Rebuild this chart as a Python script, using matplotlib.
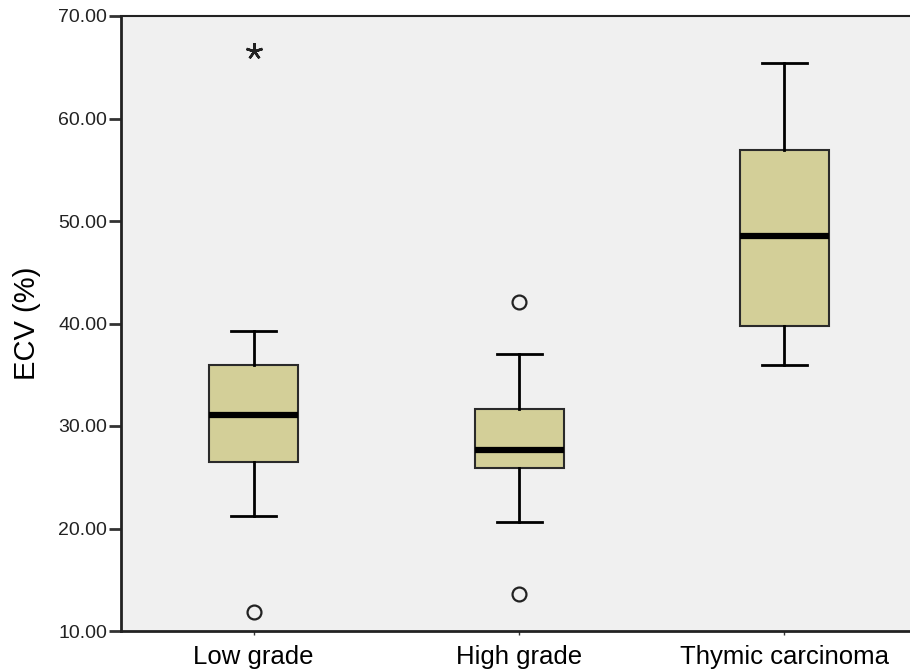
import matplotlib
matplotlib.use("Agg")
import matplotlib.pyplot as plt

plt.rcParams['font.family'] = ['Liberation Sans', 'DejaVu Sans']

categories = ["Low grade", "High grade", "Thymic carcinoma"]
whisker_low = [21.2, 20.6, 35.95]
q1 = [26.5, 25.9, 39.8]
median = [31.05, 27.65, 48.55]
q3 = [35.95, 31.65, 56.95]
whisker_high = [39.3, 37.0, 65.4]
outliers_circle = [[11.9], [42.1, 13.6], []]
outliers_extreme = [[66.6], [], []]
yticks = [10, 20, 30, 40, 50, 60, 70]

fig = plt.figure(figsize=(9.10, 6.71), dpi=100)
ax = fig.add_axes([121/910, 1-631/671, 1-121/910, (631-16)/671])
ax.set_facecolor('#F0F0F0')

stats = []
for i, c in enumerate(categories):
    stats.append(dict(label=c, whislo=whisker_low[i], q1=q1[i], med=median[i],
                      q3=q3[i], whishi=whisker_high[i], fliers=[]))

pos = list(range(len(categories)))
ax.bxp(stats, positions=pos, widths=0.335, patch_artist=True, showfliers=False,
       boxprops=dict(facecolor='#D3CF98', edgecolor='#2a2a2a', linewidth=1.5),
       medianprops=dict(color='black', linewidth=4.5, solid_capstyle='butt'),
       whiskerprops=dict(color='black', linewidth=2),
       capprops=dict(color='black', linewidth=2),
       capwidths=0.17)

for i in pos:
    if outliers_circle[i]:
        ax.plot([i]*len(outliers_circle[i]), outliers_circle[i], linestyle='none',
                marker='o', markersize=10, markerfacecolor='none',
                markeredgecolor='#222222', markeredgewidth=1.6)
    if outliers_extreme[i]:
        ax.plot([i]*len(outliers_extreme[i]), outliers_extreme[i], linestyle='none',
                marker=(5, 2, 0), markersize=12, color='#222222', markeredgewidth=1.8)

ax.set_xlim(-0.5, 2.473)
ax.set_ylim(10, 70)
ax.set_yticks(yticks)
ax.set_yticklabels([f"{v:.2f}" for v in yticks], fontsize=14, color='#222222')
ax.set_xticks(pos)
ax.set_xticklabels(categories, fontsize=18.5, color='black')
ax.tick_params(axis='y', direction='out', length=9, width=2, color='#333333', pad=1)
ax.tick_params(axis='x', direction='out', length=3, width=1, color='#333333', pad=7)
ax.set_ylabel("ECV (%)", fontsize=21, labelpad=12)

for s in ['left', 'bottom', 'top']:
    ax.spines[s].set_color('#222222')
    ax.spines[s].set_linewidth(2)
ax.spines['top'].set_linewidth(1.5)
ax.spines['right'].set_visible(False)

fig.savefig("out.png", dpi=100, facecolor='white')
